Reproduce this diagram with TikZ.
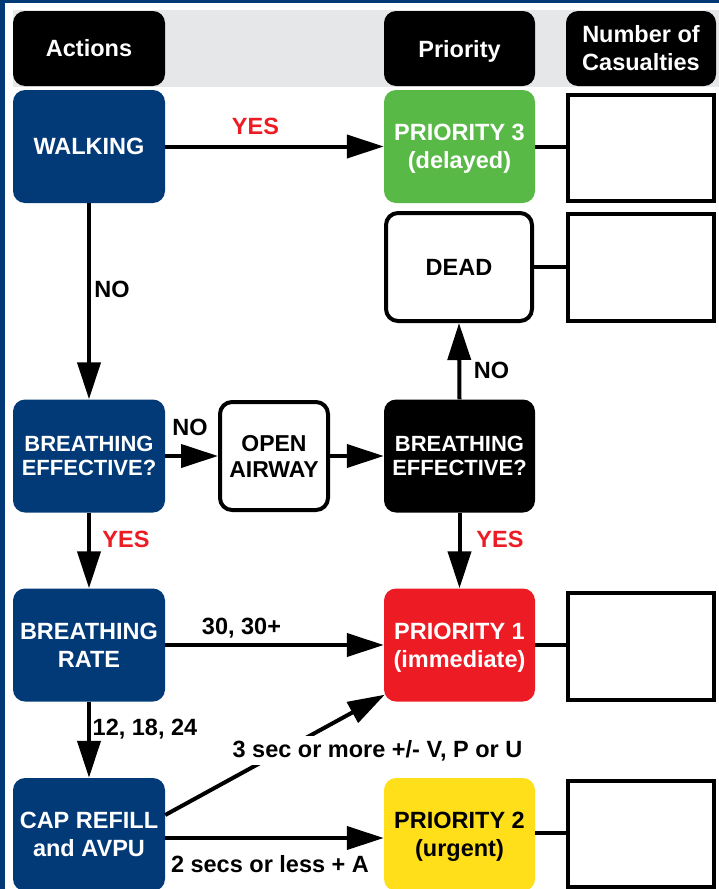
\documentclass[tikz,border=0pt]{standalone}
\usepackage{fontspec}
\setmainfont{Liberation Sans}
\usetikzlibrary{arrows.meta}
\definecolor{navy}{HTML}{023A78}
\definecolor{pgreen}{HTML}{58B947}
\definecolor{pred}{HTML}{ED1C24}
\definecolor{pyellow}{HTML}{FFDE1A}
\definecolor{band}{HTML}{E6E7E8}
\definecolor{yesred}{HTML}{ED1C24}
\begin{document}
\begin{tikzpicture}[x=1pt,y=-1pt,
  every node/.style={font=\fontsize{23.5}{28}\selectfont\bfseries, align=center, inner sep=0pt},
  hdr/.style={fill=black, text=white, rounded corners=12pt, minimum width=152pt, minimum height=75pt},
  box/.style={rounded corners=12pt, minimum width=152pt, minimum height=113pt, text=white},
  act/.style={box, fill=navy},
  obox/.style={draw=black, line width=4pt, fill=white, rounded corners=12pt, text=black},
  cbox/.style={draw=black, line width=4pt, fill=white, minimum width=146pt, minimum height=106pt},
  bef/.style={font=\fontsize{22}{24}\selectfont\bfseries},
  lbl/.style={text=black},
  yes/.style={text=yesred},
  arr/.style={line width=4pt, -{Triangle[length=37pt,width=23pt]}},
  ln/.style={line width=4pt}
]
\useasboundingbox (0,0) rectangle (719,889);
% frame and header band
\fill[navy] (0,0) rectangle (719,3);
\fill[navy] (0,0) rectangle (5,889);
\fill[band] (13,10) rectangle (719,87);

% headers
\node[hdr] (hA) at (89,48.5) {Actions};
\node[hdr, minimum width=151pt, text depth=0pt] (hP) at (459.5,48.5) {Priority};
\node[hdr, minimum width=150pt] (hC) at (641,48.5) {Number of\\Casualties};

% row 1
\node[act] (walk) at (89,146.5) {WALKING};
\node[box, fill=pgreen, minimum width=151pt, text depth=0pt, font=\fontsize{23.5}{27.5}\selectfont\bfseries] (p3) at (459.5,146.5) {PRIORITY 3\\(delayed)};
\node[cbox] (c1) at (641,148) {};

% row 2
\node[obox, minimum width=146pt, minimum height=108pt] (dead) at (459,267) {DEAD};
\node[cbox, minimum height=107pt] (c2) at (641,267.5) {};

% row 3
\node[act, bef] (be1) at (89,456) {BREATHING\\EFFECTIVE?};
\node[obox, minimum width=108pt, minimum height=108pt, font=\fontsize{23}{26}\selectfont\bfseries] (oa) at (274,456) {OPEN\\AIRWAY};
\node[box, fill=black, minimum width=151pt, bef] (be2) at (459.5,456) {BREATHING\\EFFECTIVE?};

% row 4
\node[act] (br) at (89,645) {BREATHING\\RATE};
\node[box, fill=pred, minimum width=151pt, text depth=0pt] (p1) at (459.5,645) {PRIORITY 1\\(immediate)};
\node[cbox, minimum height=107pt] (c3) at (641,646.5) {};

% row 5
\node[act] (cap) at (89,834.5) {CAP REFILL\\and AVPU};
\node[box, fill=pyellow, text=black, minimum width=151pt, text depth=0pt] (p2) at (459.5,834.5) {PRIORITY 2\\(urgent)};
\node[cbox] (c4) at (641,834) {};

% connectors
\draw[arr] (walk.east) -- (p3.west);
\draw[ln] (p3.east) -- (p3.east -| c1.west);
\draw[ln] (dead.east) -- (dead.east -| c2.west);
\draw[ln] (p1.east) -- (p1.east -| c3.west);
\draw[ln] ([yshift=2pt]p2.east) -- ([yshift=2pt]p2.east -| c4.west);
\draw[arr] (walk.south) -- (be1.north);
\draw[arr] (be1.east) -- (oa.west);
\draw[arr] (oa.east) -- (be2.west);
\draw[arr] (be2.north) -- (dead.south);
\draw[arr] (be2.south) -- (p1.north);
\draw[arr] (be1.south) -- (br.north);
\draw[arr] (br.east) -- (p1.west);
\draw[arr] (br.south) -- (cap.north);
\draw[arr] ([yshift=-3.5pt]cap.east) -- ([yshift=-3.5pt]p2.west);
\draw[arr] ([yshift=19.5pt]cap.east) -- ([yshift=7pt,xshift=1pt]p1.south west);

% labels
\node[yes] (l1) at (255.5,126) {YES};
\node[lbl] (l2) at (112,289.5) {NO};
\node[lbl] (l3) at (190,427) {NO};
\node[yes] (l4) at (126,539.5) {YES};
\node[yes] (l5) at (500,539.5) {YES};
\node[lbl] (l6) at (491.5,370.5) {NO};
\node[lbl, text depth=0pt] (l7) at (241.5,626) {30, 30+};
\node[lbl, text depth=0pt] (l8) at (145,727) {12, 18, 24};
\node[lbl, fill=white, inner sep=4pt] (l9) at (377.5,750.5) {3 sec or more +/- V, P or U};
\node[lbl] (l10) at (270,864.5) {2 secs or less + A};
\end{tikzpicture}
\end{document}
